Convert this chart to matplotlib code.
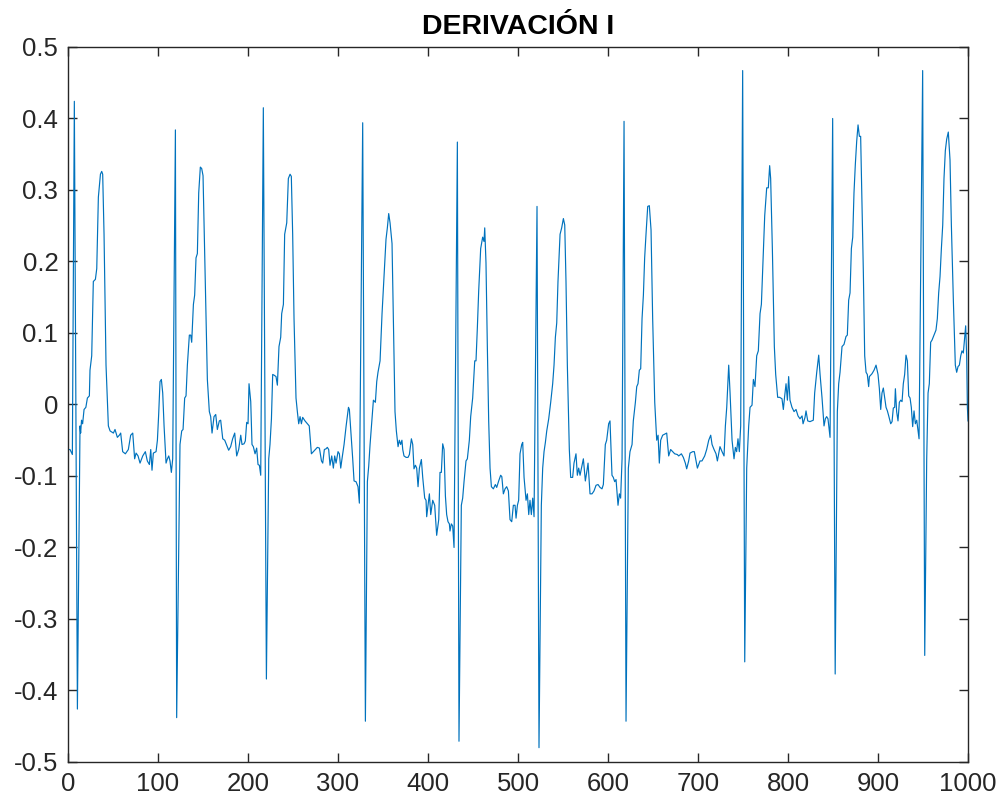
import numpy as np
import matplotlib
matplotlib.use("Agg")
from matplotlib import pyplot as plt

# ECG lead I, (sample, amplitude) pairs, one list per beat
beat1 = [(1, -0.063), (2.2, -0.063), (4.8, -0.07), (7.0, 0.424), (10.4, -0.426), (13.3, -0.03), (14, -0.04),
         (15, -0.022), (16.2, -0.027), (17.8, -0.007), (19.8, -0.004), (21.5, 0.009), (23.7, 0.012), (24.4, 0.048),
         (26.3, 0.068), (28.1, 0.172), (30.4, 0.175), (31.9, 0.19), (33.7, 0.29), (36, 0.322), (37.4, 0.326),
         (38.5, 0.322), (40, 0.238), (42.2, 0.055), (44.8, -0.03), (46.7, -0.037), (50.4, -0.04), (52.2, -0.035),
         (54.8, -0.046), (57, -0.043), (58.5, -0.04), (60.7, -0.066), (63.7, -0.069), (67, -0.063), (69.6, -0.043),
         (71.9, -0.04), (74, -0.076), (75.6, -0.068), (77.8, -0.072), (80, -0.082), (83, -0.072), (85.9, -0.066),
         (88.1, -0.079), (90.4, -0.084), (91.9, -0.063), (93.3, -0.092), (94.8, -0.068), (97.8, -0.066),
         (99.3, -0.05), (100.7, -0.014), (102.2, 0.032), (103.7, 0.035), (105.2, 0.016), (106.7, -0.03),
         (108.9, -0.082), (110.4, -0.076), (111.9, -0.072), (113.3, -0.079), (114.8, -0.095), (116.3, -0.076)]
beat2 = [(119.3, 0.384), (120.7, -0.438), (124.4, -0.056), (126.3, -0.037), (127.8, -0.035), (129.6, 0.009),
         (131.1, 0.012), (132.6, 0.055), (134.8, 0.097), (136.3, 0.097), (137.4, 0.087), (139.3, 0.14),
         (140.7, 0.153), (142.2, 0.205), (143.7, 0.211), (145.2, 0.296), (147, 0.332), (148.5, 0.33), (150, 0.32),
         (151.5, 0.231), (153.3, 0.12), (154.8, 0.035), (157, -0.01), (158.5, -0.017), (160, -0.04),
         (162.2, -0.017), (164.1, -0.014), (165.9, -0.035), (168.1, -0.023), (169.6, -0.022), (171.9, -0.048),
         (174.1, -0.05), (176.3, -0.057), (178.5, -0.064), (180.7, -0.059), (182.9, -0.048), (185.2, -0.04),
         (187.4, -0.072), (189.6, -0.063), (191.9, -0.043), (193.3, -0.056), (195.6, -0.055), (197, -0.051),
         (198.5, -0.025), (200, -0.027), (201.1, 0.029), (203, 0.004), (204.4, -0.056), (205.9, -0.059),
         (207.8, -0.069), (209.6, -0.061), (211.1, -0.084), (212.6, -0.085), (214.1, -0.099)]
beat3 = [(217, 0.415), (220.4, -0.384), (223, -0.076), (224.4, -0.056), (226, -0.02), (227.4, 0.042),
         (228.9, 0.041), (231.1, 0.039), (232.6, 0.027), (234.4, 0.081), (236.3, 0.094), (237.4, 0.127),
         (239.3, 0.14), (240.7, 0.238), (243, 0.254), (244.8, 0.316), (246.7, 0.322), (248.1, 0.319),
         (249.6, 0.238), (251.1, 0.12), (253.3, 0.009), (254.8, -0.01), (256.3, -0.027), (257.8, -0.017),
         (259.3, -0.027), (260.7, -0.018), (263.3, -0.023), (265.9, -0.027), (268, -0.03), (270.4, -0.069),
         (272.6, -0.066), (274.8, -0.063), (277, -0.06), (279.3, -0.061), (281.6, -0.079), (283, -0.082),
         (284.8, -0.063), (286.7, -0.062), (288.1, -0.06), (289.6, -0.063), (291.1, -0.085), (293, -0.072),
         (294.8, -0.089), (296.3, -0.072), (297.8, -0.082), (300, -0.066), (301.5, -0.069), (303, -0.089),
         (304.4, -0.076), (306.7, -0.056), (309, -0.03), (311.6, -0.004), (312.6, -0.007), (314, -0.033),
         (316.3, -0.076), (317.8, -0.107), (320, -0.108), (322.2, -0.115), (323.7, -0.138)]
beat4 = [(327.4, 0.394), (330.4, -0.443), (332.6, -0.108), (334.1, -0.086), (335.6, -0.056), (337.8, -0.02),
         (339.3, 0.006), (341.5, 0.003), (343, 0.032), (344.4, 0.045), (346.7, 0.061), (348.9, 0.127),
         (351.1, 0.179), (353.3, 0.231), (354.8, 0.247), (356.3, 0.267), (357.8, 0.254), (360, 0.225),
         (361.5, 0.12), (363.3, -0.01), (364.8, -0.037), (366.7, -0.059), (368.1, -0.05), (369.6, -0.056),
         (371, -0.05), (371.9, -0.063), (373.3, -0.072), (375.6, -0.074), (377.8, -0.074), (379.3, -0.07),
         (381.5, -0.048), (383, -0.056), (384.4, -0.09), (386, -0.085), (387.4, -0.089), (388.9, -0.115),
         (390.4, -0.089), (392.6, -0.077), (394.1, -0.102), (396.3, -0.131), (397.8, -0.134), (398.5, -0.157),
         (400, -0.141), (401.5, -0.125), (403, -0.154), (405.2, -0.134), (407.4, -0.141), (409.6, -0.183),
         (411.9, -0.161), (413.3, -0.095), (414.8, -0.095), (416.3, -0.055), (417.8, -0.063), (419.3, -0.128),
         (420.7, -0.154), (422.2, -0.164), (423.7, -0.167), (424.4, -0.177), (425.9, -0.167), (427.4, -0.17),
         (428.9, -0.2)]
beat5 = [(432.6, 0.367), (434.4, -0.471), (437, -0.141), (438.5, -0.131), (440, -0.108), (442.2, -0.079),
         (443.7, -0.076), (445.9, -0.05), (447.4, -0.017), (449.6, 0.009), (451.9, 0.061), (453.3, 0.061),
         (454.8, 0.107), (456.3, 0.159), (458.5, 0.218), (460.7, 0.234), (462.2, 0.228), (463, 0.247),
         (464.4, 0.198), (465.9, 0.081), (467.4, -0.023), (468.9, -0.089), (470.4, -0.115), (472.6, -0.118),
         (474.8, -0.112), (476.3, -0.116), (478.5, -0.107), (480.7, -0.099), (482, -0.101), (483.7, -0.125),
         (485.6, -0.118), (487.4, -0.115), (489.3, -0.121), (491.1, -0.161), (493, -0.164), (494.8, -0.141),
         (496.7, -0.141), (497.8, -0.159), (499.3, -0.141), (500.7, -0.134), (502.2, -0.069), (504.1, -0.056),
         (505.2, -0.053), (506.7, -0.102), (508.9, -0.134), (510.4, -0.125), (511.9, -0.154), (513.3, -0.134),
         (514.8, -0.154), (516.3, -0.131), (517.8, -0.157)]
beat6 = [(521.1, 0.277), (523.3, -0.48), (525.9, -0.141), (527.4, -0.089), (528.9, -0.066), (530.4, -0.053),
         (531.9, -0.037), (534.1, -0.02), (536.3, 0.003), (538.5, 0.029), (540, 0.055), (541.5, 0.094),
         (543, 0.114), (544.4, 0.172), (546.7, 0.238), (548.5, 0.247), (550.4, 0.26), (551.9, 0.251),
         (553.3, 0.172), (554.8, 0.055), (557, -0.063), (558.5, -0.102), (560.7, -0.102), (562.2, -0.082),
         (564.4, -0.069), (565.9, -0.099), (567.4, -0.089), (568.9, -0.099), (572.6, -0.076), (574.8, -0.107),
         (576.3, -0.095), (577.8, -0.082), (580, -0.125), (582.2, -0.125), (584.4, -0.121), (586.7, -0.113),
         (588.9, -0.112), (591.1, -0.116), (593.3, -0.118), (594.8, -0.112), (597, -0.056), (598.5, -0.05),
         (600.7, -0.027), (602.2, -0.023), (604.4, -0.099), (605.9, -0.102), (607.4, -0.108), (608.9, -0.105),
         (611.1, -0.141), (612.6, -0.125), (614, -0.131), (615.6, -0.076)]
beat7 = [(617.8, 0.396), (620, -0.443), (622.6, -0.089), (624.4, -0.066), (626.7, -0.056), (628.1, -0.023),
         (630.4, 0.003), (631.9, 0.025), (633.3, 0.029), (634.8, 0.048), (636.3, 0.05), (637.8, 0.12),
         (639.3, 0.153), (640.7, 0.205), (642.2, 0.238), (644.1, 0.277), (645.9, 0.278), (647.8, 0.244),
         (649.6, 0.12), (651.9, 0.003), (654.1, -0.05), (655.6, -0.043), (657, -0.082), (658.5, -0.05),
         (660.7, -0.043), (662.2, -0.042), (665.2, -0.04), (667.4, -0.072), (669.6, -0.063), (671.9, -0.066),
         (674.1, -0.069), (677, -0.07), (678.5, -0.072), (681.5, -0.069), (683.7, -0.074), (685.9, -0.082),
         (687.4, -0.09), (689.6, -0.079), (691.1, -0.068), (694.1, -0.066), (695.9, -0.066), (699.3, -0.089),
         (702.2, -0.079), (704.4, -0.079), (707.4, -0.072), (709.6, -0.063), (711.9, -0.05), (714.1, -0.043),
         (715.6, -0.056), (717.8, -0.063), (720, -0.069), (721.5, -0.079), (723, -0.069), (724.4, -0.059),
         (726.7, -0.066), (728.9, -0.072), (730.4, -0.03), (731.9, -0.004), (734.1, 0.055), (735.6, 0.016),
         (737.8, -0.05), (740, -0.076), (741.5, -0.06), (742.9, -0.066), (744.4, -0.048), (745.9, -0.066),
         (747.4, -0.03)]
beat8 = [(749.6, 0.467), (751.9, -0.36), (754.1, -0.089), (756.3, -0.03), (757.8, -0.004), (760, -0.001),
         (761.5, 0.035), (763.3, 0.025), (765.2, 0.068), (767, 0.075), (768.9, 0.127), (770.4, 0.14),
         (771.9, 0.192), (774.1, 0.264), (776.3, 0.303), (778.1, 0.303), (779.6, 0.334), (780.7, 0.316),
         (782.6, 0.218), (784.8, 0.081), (786.3, 0.042), (788.5, 0.01), (790.7, 0.01), (793.3, 0.008),
         (794.8, -0.007), (796.3, 0.012), (797.8, 0.029), (799.3, 0.006), (800.7, 0.039), (802.2, 0.006),
         (804.4, -0.004), (806.7, -0.01), (808.9, -0.007), (811.1, -0.016), (813.3, -0.02), (815.6, -0.016),
         (816.7, -0.027), (818.9, -0.018), (820, -0.009), (821.9, -0.023), (824.4, -0.024), (828.1, -0.022),
         (829.6, 0.016), (831.9, 0.045), (834.1, 0.069), (835.6, 0.042), (837.8, 0.009), (840, -0.03),
         (841.5, -0.02), (842.9, -0.017), (844.4, -0.02), (846.7, -0.046)]
beat9 = [(849.6, 0.4), (852.4, -0.377), (854.8, -0.01), (856.3, 0.029), (857.8, 0.045), (860, 0.081),
         (862.2, 0.084), (864.4, 0.095), (865.9, 0.097), (867.4, 0.146), (868.9, 0.156), (870.4, 0.218),
         (871.9, 0.234), (873.3, 0.296), (874.8, 0.336), (876.3, 0.368), (877.8, 0.391), (879.3, 0.375),
         (880.7, 0.375), (882.2, 0.277), (883.7, 0.185), (885.2, 0.068), (886.7, 0.045), (888.1, 0.042),
         (889.6, 0.025), (890.4, 0.039), (893.3, 0.043), (895.6, 0.048), (897.8, 0.055), (900, 0.042),
         (901.5, 0.022), (903, -0.007), (904.4, 0.016), (905.9, 0.023), (907.4, 0.009), (908.9, -0.004),
         (910.4, -0.009), (911.9, -0.016), (914.1, -0.027), (915.6, -0.024), (917, -0.005), (918.5, -0.004),
         (919.3, 0.022), (920.7, -0.01), (922.2, -0.023), (923.7, 0.003), (925.2, 0.006), (926.7, 0.004),
         (928.1, 0.029), (929.6, 0.042), (931.1, 0.069), (932.6, 0.061), (934.1, 0.012), (935.6, 0.009),
         (937, -0.004), (938.5, -0.031), (940, -0.009), (941.5, -0.027), (943, -0.022), (945.6, -0.048)]
beat10 = [(949.6, 0.467), (951.9, -0.351), (954.1, -0.076), (955.6, 0.016), (957, 0.029), (958.5, 0.087),
          (960, 0.09), (962.2, 0.097), (964.4, 0.104), (965.9, 0.12), (967.4, 0.156), (968.9, 0.179),
          (970.4, 0.218), (971.9, 0.251), (973.3, 0.316), (974.8, 0.355), (976.3, 0.371), (978.1, 0.381),
          (980, 0.342), (981.5, 0.251), (983.7, 0.146), (985.9, 0.055), (987.4, 0.045), (988.9, 0.053),
          (990.4, 0.055), (991.9, 0.068), (993.3, 0.075), (994.8, 0.072), (996.3, 0.094), (997.4, 0.11),
          (998.5, 0.068), (999.3, -0.004), (1000, -0.023)]

yticks = [-0.5, -0.4, -0.3, -0.2, -0.1, 0, 0.1, 0.2, 0.3, 0.4, 0.5]
ytick_labels = ['-0.5', '-0.4', '-0.3', '-0.2', '-0.1', '0', '0.1', '0.2', '0.3', '0.4', '0.5']
xticks = [0, 100, 200, 300, 400, 500, 600, 700, 800, 900, 1000]

beats = [beat1, beat2, beat3, beat4, beat5, beat6, beat7, beat8, beat9, beat10]
sig = np.array([p for b in beats for p in b])

plt.rcParams['font.family'] = ['Liberation Sans', 'DejaVu Sans']
plt.rcParams['axes.unicode_minus'] = False

fig = plt.figure(figsize=(10.05, 8.07), dpi=100)
ax = fig.add_axes([0.0677, 0.0558, 0.8955, 0.886])
ax.plot(sig[:, 0], sig[:, 1], color='#0072BD', linewidth=0.85)

ax.set_xlim(0, 1000)
ax.set_ylim(-0.5, 0.5)
ax.set_xticks(xticks)
ax.set_xticklabels([str(x) for x in xticks])
ax.set_yticks(yticks)
ax.set_yticklabels(ytick_labels)
ax.tick_params(direction='in', length=6.5, width=1, colors='#262626', labelsize=18.5,
               top=True, right=True, pad=7)
for s in ax.spines.values():
    s.set_color('#262626')
    s.set_linewidth(1)
ax.set_title('DERIVACIÓN I', fontsize=20.5, fontweight='bold', pad=9)

fig.savefig('out.png', dpi=100)
